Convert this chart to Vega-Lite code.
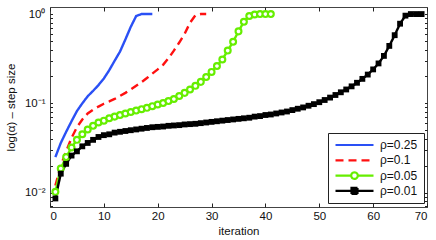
{
  "$schema": "https://vega.github.io/schema/vega-lite/v6.json",
  "width": 377,
  "height": 200,
  "autosize": "none",
  "padding": {"left": 50, "top": 7, "right": 9, "bottom": 33},
  "background": "white",
  "config": {
    "font": "Liberation Sans",
    "view": {"stroke": "#444", "strokeWidth": 1},
    "axis": {
      "grid": false,
      "domain": false,
      "tickColor": "#222",
      "tickWidth": 1,
      "labelFont": "Liberation Sans",
      "labelFontSize": 11.5,
      "labelColor": "#111",
      "titleFont": "Liberation Sans",
      "titleFontSize": 11.5,
      "titleFontWeight": "normal",
      "titleColor": "#111"
    }
  },
  "data": {"values": [
    {"rho":"ρ=0.25","iter":1,"alpha":0.025},{"rho":"ρ=0.25","iter":2,"alpha":0.036},{"rho":"ρ=0.25","iter":3,"alpha":0.048},{"rho":"ρ=0.25","iter":4,"alpha":0.063},{"rho":"ρ=0.25","iter":5,"alpha":0.082},{"rho":"ρ=0.25","iter":6,"alpha":0.1},{"rho":"ρ=0.25","iter":7,"alpha":0.12},{"rho":"ρ=0.25","iter":8,"alpha":0.138},{"rho":"ρ=0.25","iter":9,"alpha":0.16},{"rho":"ρ=0.25","iter":10,"alpha":0.19},{"rho":"ρ=0.25","iter":11,"alpha":0.235},{"rho":"ρ=0.25","iter":12,"alpha":0.3},{"rho":"ρ=0.25","iter":13,"alpha":0.38},{"rho":"ρ=0.25","iter":14,"alpha":0.52},{"rho":"ρ=0.25","iter":15,"alpha":0.72},{"rho":"ρ=0.25","iter":16,"alpha":0.95},{"rho":"ρ=0.25","iter":17,"alpha":1.0},{"rho":"ρ=0.25","iter":18,"alpha":1.0},{"rho":"ρ=0.25","iter":19,"alpha":1.0},
    {"rho":"ρ=0.1","iter":1,"alpha":0.012},{"rho":"ρ=0.1","iter":2,"alpha":0.02},{"rho":"ρ=0.1","iter":3,"alpha":0.029},{"rho":"ρ=0.1","iter":4,"alpha":0.041},{"rho":"ρ=0.1","iter":5,"alpha":0.054},{"rho":"ρ=0.1","iter":6,"alpha":0.066},{"rho":"ρ=0.1","iter":7,"alpha":0.077},{"rho":"ρ=0.1","iter":8,"alpha":0.085},{"rho":"ρ=0.1","iter":9,"alpha":0.092},{"rho":"ρ=0.1","iter":10,"alpha":0.099},{"rho":"ρ=0.1","iter":11,"alpha":0.105},{"rho":"ρ=0.1","iter":12,"alpha":0.112},{"rho":"ρ=0.1","iter":13,"alpha":0.121},{"rho":"ρ=0.1","iter":14,"alpha":0.131},{"rho":"ρ=0.1","iter":15,"alpha":0.143},{"rho":"ρ=0.1","iter":16,"alpha":0.157},{"rho":"ρ=0.1","iter":17,"alpha":0.173},{"rho":"ρ=0.1","iter":18,"alpha":0.192},{"rho":"ρ=0.1","iter":19,"alpha":0.215},{"rho":"ρ=0.1","iter":20,"alpha":0.24},{"rho":"ρ=0.1","iter":21,"alpha":0.27},{"rho":"ρ=0.1","iter":22,"alpha":0.32},{"rho":"ρ=0.1","iter":23,"alpha":0.39},{"rho":"ρ=0.1","iter":24,"alpha":0.48},{"rho":"ρ=0.1","iter":25,"alpha":0.6},{"rho":"ρ=0.1","iter":26,"alpha":0.8},{"rho":"ρ=0.1","iter":27,"alpha":0.97},{"rho":"ρ=0.1","iter":28,"alpha":1.0},{"rho":"ρ=0.1","iter":29,"alpha":1.0},
    {"rho":"ρ=0.05","iter":1,"alpha":0.0102},{"rho":"ρ=0.05","iter":2,"alpha":0.0186},{"rho":"ρ=0.05","iter":3,"alpha":0.025},{"rho":"ρ=0.05","iter":4,"alpha":0.032},{"rho":"ρ=0.05","iter":5,"alpha":0.039},{"rho":"ρ=0.05","iter":6,"alpha":0.045},{"rho":"ρ=0.05","iter":7,"alpha":0.051},{"rho":"ρ=0.05","iter":8,"alpha":0.056},{"rho":"ρ=0.05","iter":9,"alpha":0.061},{"rho":"ρ=0.05","iter":10,"alpha":0.064},{"rho":"ρ=0.05","iter":11,"alpha":0.068},{"rho":"ρ=0.05","iter":12,"alpha":0.071},{"rho":"ρ=0.05","iter":13,"alpha":0.074},{"rho":"ρ=0.05","iter":14,"alpha":0.077},{"rho":"ρ=0.05","iter":15,"alpha":0.08},{"rho":"ρ=0.05","iter":16,"alpha":0.083},{"rho":"ρ=0.05","iter":17,"alpha":0.086},{"rho":"ρ=0.05","iter":18,"alpha":0.089},{"rho":"ρ=0.05","iter":19,"alpha":0.093},{"rho":"ρ=0.05","iter":20,"alpha":0.097},{"rho":"ρ=0.05","iter":21,"alpha":0.101},{"rho":"ρ=0.05","iter":22,"alpha":0.106},{"rho":"ρ=0.05","iter":23,"alpha":0.112},{"rho":"ρ=0.05","iter":24,"alpha":0.121},{"rho":"ρ=0.05","iter":25,"alpha":0.131},{"rho":"ρ=0.05","iter":26,"alpha":0.143},{"rho":"ρ=0.05","iter":27,"alpha":0.157},{"rho":"ρ=0.05","iter":28,"alpha":0.174},{"rho":"ρ=0.05","iter":29,"alpha":0.197},{"rho":"ρ=0.05","iter":30,"alpha":0.225},{"rho":"ρ=0.05","iter":31,"alpha":0.262},{"rho":"ρ=0.05","iter":32,"alpha":0.31},{"rho":"ρ=0.05","iter":33,"alpha":0.39},{"rho":"ρ=0.05","iter":34,"alpha":0.49},{"rho":"ρ=0.05","iter":35,"alpha":0.64},{"rho":"ρ=0.05","iter":36,"alpha":0.82},{"rho":"ρ=0.05","iter":37,"alpha":0.95},{"rho":"ρ=0.05","iter":38,"alpha":0.99},{"rho":"ρ=0.05","iter":39,"alpha":1.0},{"rho":"ρ=0.05","iter":40,"alpha":1.0},{"rho":"ρ=0.05","iter":41,"alpha":1.0},
    {"rho":"ρ=0.01","iter":1,"alpha":0.0086},{"rho":"ρ=0.01","iter":2,"alpha":0.0163},{"rho":"ρ=0.01","iter":3,"alpha":0.021},{"rho":"ρ=0.01","iter":4,"alpha":0.026},{"rho":"ρ=0.01","iter":5,"alpha":0.029},{"rho":"ρ=0.01","iter":6,"alpha":0.033},{"rho":"ρ=0.01","iter":7,"alpha":0.036},{"rho":"ρ=0.01","iter":8,"alpha":0.039},{"rho":"ρ=0.01","iter":9,"alpha":0.042},{"rho":"ρ=0.01","iter":10,"alpha":0.044},{"rho":"ρ=0.01","iter":11,"alpha":0.045},{"rho":"ρ=0.01","iter":12,"alpha":0.047},{"rho":"ρ=0.01","iter":13,"alpha":0.048},{"rho":"ρ=0.01","iter":14,"alpha":0.049},{"rho":"ρ=0.01","iter":15,"alpha":0.05},{"rho":"ρ=0.01","iter":16,"alpha":0.051},{"rho":"ρ=0.01","iter":17,"alpha":0.052},{"rho":"ρ=0.01","iter":18,"alpha":0.053},{"rho":"ρ=0.01","iter":19,"alpha":0.054},{"rho":"ρ=0.01","iter":20,"alpha":0.0545},{"rho":"ρ=0.01","iter":21,"alpha":0.055},{"rho":"ρ=0.01","iter":22,"alpha":0.056},{"rho":"ρ=0.01","iter":23,"alpha":0.0565},{"rho":"ρ=0.01","iter":24,"alpha":0.057},{"rho":"ρ=0.01","iter":25,"alpha":0.058},{"rho":"ρ=0.01","iter":26,"alpha":0.0585},{"rho":"ρ=0.01","iter":27,"alpha":0.059},{"rho":"ρ=0.01","iter":28,"alpha":0.06},{"rho":"ρ=0.01","iter":29,"alpha":0.061},{"rho":"ρ=0.01","iter":30,"alpha":0.062},{"rho":"ρ=0.01","iter":31,"alpha":0.063},{"rho":"ρ=0.01","iter":32,"alpha":0.064},{"rho":"ρ=0.01","iter":33,"alpha":0.065},{"rho":"ρ=0.01","iter":34,"alpha":0.066},{"rho":"ρ=0.01","iter":35,"alpha":0.067},{"rho":"ρ=0.01","iter":36,"alpha":0.068},{"rho":"ρ=0.01","iter":37,"alpha":0.069},{"rho":"ρ=0.01","iter":38,"alpha":0.071},{"rho":"ρ=0.01","iter":39,"alpha":0.072},{"rho":"ρ=0.01","iter":40,"alpha":0.074},{"rho":"ρ=0.01","iter":41,"alpha":0.075},{"rho":"ρ=0.01","iter":42,"alpha":0.077},{"rho":"ρ=0.01","iter":43,"alpha":0.079},{"rho":"ρ=0.01","iter":44,"alpha":0.081},{"rho":"ρ=0.01","iter":45,"alpha":0.084},{"rho":"ρ=0.01","iter":46,"alpha":0.087},{"rho":"ρ=0.01","iter":47,"alpha":0.09},{"rho":"ρ=0.01","iter":48,"alpha":0.094},{"rho":"ρ=0.01","iter":49,"alpha":0.098},{"rho":"ρ=0.01","iter":50,"alpha":0.103},{"rho":"ρ=0.01","iter":51,"alpha":0.109},{"rho":"ρ=0.01","iter":52,"alpha":0.116},{"rho":"ρ=0.01","iter":53,"alpha":0.124},{"rho":"ρ=0.01","iter":54,"alpha":0.133},{"rho":"ρ=0.01","iter":55,"alpha":0.143},{"rho":"ρ=0.01","iter":56,"alpha":0.155},{"rho":"ρ=0.01","iter":57,"alpha":0.17},{"rho":"ρ=0.01","iter":58,"alpha":0.188},{"rho":"ρ=0.01","iter":59,"alpha":0.21},{"rho":"ρ=0.01","iter":60,"alpha":0.24},{"rho":"ρ=0.01","iter":61,"alpha":0.28},{"rho":"ρ=0.01","iter":62,"alpha":0.34},{"rho":"ρ=0.01","iter":63,"alpha":0.44},{"rho":"ρ=0.01","iter":64,"alpha":0.58},{"rho":"ρ=0.01","iter":65,"alpha":0.78},{"rho":"ρ=0.01","iter":66,"alpha":0.96},{"rho":"ρ=0.01","iter":67,"alpha":1.0},{"rho":"ρ=0.01","iter":68,"alpha":1.0},{"rho":"ρ=0.01","iter":69,"alpha":1.0}
  ]},
  "layer": [
    {
      "encoding": {
        "x": {"field": "iter", "type": "quantitative", "scale": {"domain": [0, 70], "nice": false, "zero": false},
              "axis": {"orient": "bottom", "title": "iteration", "values": [0,10,20,30,40,50,60,70], "tickSize": -4, "labelPadding": 7, "titlePadding": 4}},
        "y": {"field": "alpha", "type": "quantitative", "scale": {"type": "log", "domain": [0.0069, 1.2], "nice": false},
              "axis": {"orient": "left", "title": "log(α) – step size",
                       "values": [0.007,0.008,0.009,0.01,0.02,0.03,0.04,0.05,0.06,0.07,0.08,0.09,0.1,0.2,0.3,0.4,0.5,0.6,0.7,0.8,0.9,1],
                       "labelExpr": "datum.value == 1 ? '10⁰' : (datum.value == 0.1 ? '10⁻¹' : (datum.value == 0.01 ? '10⁻²' : ''))",
                       "tickSize": -2.5, "labelPadding": 7.5, "titlePadding": 8}}
      },
      "layer": [
        {
          "mark": {"type": "line", "strokeWidth": 2.4, "clip": true},
          "encoding": {
            "color": {"field": "rho", "type": "nominal",
                      "scale": {"domain": ["ρ=0.25","ρ=0.1","ρ=0.05","ρ=0.01"], "range": ["#2a50f5","#ff1010","#66ee00","#000000"]},
                      "legend": {"orient": "none", "legendX": 278, "legendY": 126, "title": null,
                                 "strokeColor": "#222", "fillColor": "white", "padding": 6,
                                 "symbolSize": 100, "symbolStrokeWidth": 2.2, "symbolOffset": 14,
                                 "labelOffset": 19, "labelFont": "Liberation Sans", "labelFontSize": 12, "labelColor": "#111",
                                 "clipHeight": 12, "rowPadding": 3.3,
                                 "encode": {"symbols": {"update": {
                                   "shape": {"signal": "datum.value == 'ρ=0.05' ? 'M-3.8,0H-0.66M0.66,0H3.8M-0.66,0A0.66,0.66 0 1,1 0.66,0A0.66,0.66 0 1,1 -0.66,0' : (datum.value == 'ρ=0.01' ? 'M-3.8,0H3.8M-0.6,-0.6H0.6V0.6H-0.6Z' : 'M-3.8,0H3.8')"},
                                   "fill": {"signal": "datum.value == 'ρ=0.05' ? 'white' : (datum.value == 'ρ=0.01' ? 'black' : 'transparent')"},
                                   "strokeDash": {"signal": "datum.value == 'ρ=0.1' ? [8,7] : [1,0]"}
                                 }}}}},
            "strokeDash": {"field": "rho", "type": "nominal",
                           "scale": {"domain": ["ρ=0.25","ρ=0.1","ρ=0.05","ρ=0.01"], "range": [[1,0],[8,5],[1,0],[1,0]]},
                           "legend": null}
          }
        },
        {
          "transform": [{"filter": "datum.rho == 'ρ=0.05'"}],
          "mark": {"type": "point", "shape": "circle", "filled": true, "fill": "white", "stroke": "#66ee00", "size": 34, "strokeWidth": 2.2, "opacity": 1, "fillOpacity": 1, "strokeOpacity": 1}
        }
      ]
    },
    {
      "transform": [{"filter": "datum.rho == 'ρ=0.01'"}],
      "mark": {"type": "point", "shape": "square", "filled": true, "color": "#000000", "size": 34, "opacity": 1},
      "encoding": {
        "x": {"field": "iter", "type": "quantitative", "axis": {"orient": "top", "labels": false, "title": null, "values": [0,10,20,30,40,50,60,70], "tickSize": -4}},
        "y": {"field": "alpha", "type": "quantitative", "axis": {"orient": "right", "labels": false, "title": null,
              "values": [0.007,0.008,0.009,0.01,0.02,0.03,0.04,0.05,0.06,0.07,0.08,0.09,0.1,0.2,0.3,0.4,0.5,0.6,0.7,0.8,0.9,1], "tickSize": -2.5}}
      }
    }
  ],
  "resolve": {"axis": {"x": "independent", "y": "independent"}}
}
